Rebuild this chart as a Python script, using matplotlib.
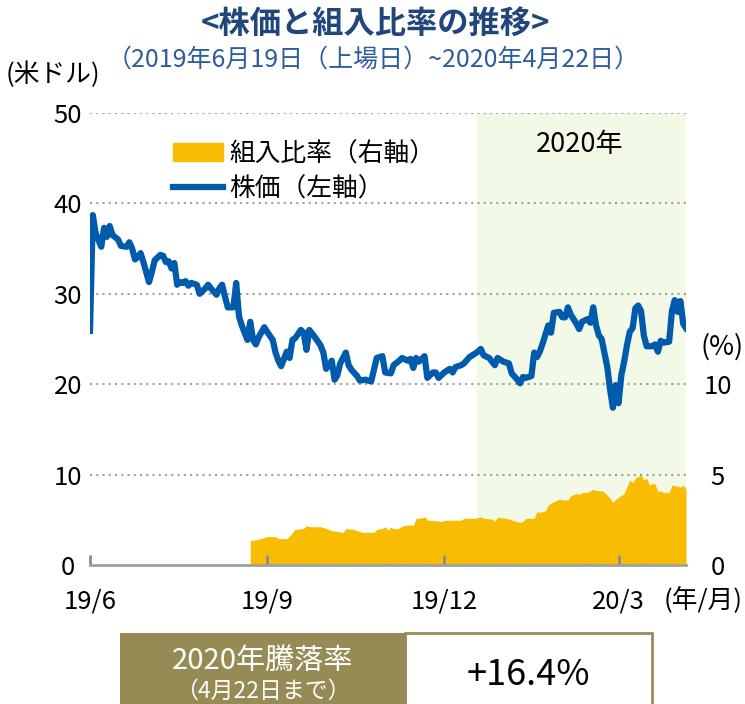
import matplotlib.pyplot as plt
from matplotlib.patches import Patch, Rectangle
from matplotlib.lines import Line2D

plt.rcParams['font.family'] = ['Noto Sans CJK JP', 'DejaVu Sans']

# 株価（左軸, 米ドル）: 上場日からの営業日番号と終値
price_day = [0, 1, 2, 4, 5, 6, 7, 8, 10, 11, 13, 14, 15, 16, 17, 18, 19, 21, 22, 23,
             25, 26, 27, 28, 29, 30, 31, 32, 33, 34, 35, 36, 38, 39, 41, 42, 43, 45, 46, 47,
             48, 49, 51, 52, 53, 54, 56, 57, 58, 59, 60, 62, 63, 65, 66, 67, 68, 70, 71, 72,
             73, 75, 76, 77, 78, 80, 82, 83, 84, 85, 86, 87, 88, 89, 91, 92, 93, 95, 96, 98,
             100, 101, 102, 104, 105, 107, 108, 110, 111, 113, 114, 115, 116, 117, 119, 120, 122, 123, 124, 126,
             128, 129, 130, 132, 133, 135, 138, 139, 140, 142, 144, 145, 147, 149, 150, 152, 153, 154, 155, 157,
             158, 159, 160, 161, 163, 164, 165, 167, 168, 169, 170, 171, 173, 174, 175, 177, 178, 179, 180, 181,
             182, 184, 185, 186, 187, 188, 189, 190, 191, 192, 193, 194, 195, 196, 197, 198, 200, 201, 202, 203,
             204, 206, 207, 208, 209, 210, 211, 212]
price = [25.9, 38.7, 36.7, 35.2, 37.3, 36.3, 37.5, 36.5, 36.0, 35.3, 35.2, 35.7, 35.0, 33.8, 34.1, 34.5, 33.5, 31.3, 32.4, 33.7,
         34.3, 34.2, 33.5, 33.6, 32.8, 33.4, 31.0, 31.3, 31.2, 31.4, 30.9, 31.2, 31.0, 30.0, 30.6, 31.0, 30.6, 29.9, 30.6, 31.0,
         29.7, 28.5, 28.5, 31.2, 27.5, 26.5, 24.9, 26.9, 24.9, 24.4, 25.2, 26.3, 25.8, 24.9, 23.5, 22.6, 22.0, 23.6, 22.9, 24.9,
         25.1, 26.0, 25.7, 23.8, 26.0, 25.2, 24.3, 23.5, 21.7, 22.1, 22.6, 20.5, 21.0, 22.3, 23.5, 22.1, 21.6, 20.9, 20.4, 20.5,
         20.3, 21.6, 22.9, 23.1, 21.3, 21.2, 22.1, 22.6, 22.9, 22.6, 22.8, 21.8, 22.9, 22.5, 23.1, 20.7, 21.3, 21.3, 20.7, 21.3,
         21.7, 21.3, 21.9, 22.1, 22.3, 23.0, 23.6, 23.9, 23.2, 22.9, 22.1, 22.9, 22.5, 22.3, 21.2, 20.5, 20.1, 20.8, 20.7, 20.9,
         23.5, 23.0, 23.6, 24.5, 26.5, 25.7, 27.9, 28.0, 27.4, 27.4, 28.5, 27.7, 26.7, 26.1, 26.9, 27.2, 26.8, 28.5, 26.5, 25.4,
         25.0, 21.9, 19.4, 17.4, 19.9, 17.9, 21.0, 22.5, 24.3, 25.8, 26.2, 28.4, 28.7, 28.1, 25.4, 24.2, 24.2, 24.4, 23.6, 24.8,
         24.6, 24.7, 28.1, 29.3, 28.0, 29.2, 26.7, 26.2]

# 組入比率（右軸, %）
ratio_day = [57, 60, 62, 63, 66, 67, 70, 71, 73, 76, 77, 78, 82, 84, 86, 88, 90, 91, 94, 95,
             97, 101, 102, 104, 105, 106, 107, 108, 110, 111, 113, 115, 116, 118, 119, 120, 123, 125, 126, 132,
             133, 137, 139, 140, 143, 144, 145, 148, 149, 151, 153, 154, 155, 158, 159, 160, 162, 163, 165, 167,
             168, 170, 171, 173, 174, 175, 177, 179, 180, 182, 183, 185, 186, 187, 188, 190, 191, 192, 193, 194,
             196, 197, 198, 199, 200, 201, 202, 203, 204, 206, 207, 209, 210, 211, 212]
ratio = [1.35, 1.42, 1.53, 1.57, 1.57, 1.46, 1.46, 1.60, 1.97, 2.02, 2.19, 2.12, 2.12, 2.02, 1.90, 1.86, 1.79, 2.01, 1.97, 1.90,
         1.81, 1.81, 1.97, 2.02, 2.12, 1.93, 2.09, 2.00, 2.02, 2.16, 2.21, 2.21, 2.58, 2.60, 2.67, 2.49, 2.45, 2.40, 2.47, 2.48,
         2.58, 2.58, 2.67, 2.58, 2.54, 2.43, 2.64, 2.58, 2.54, 2.43, 2.36, 2.40, 2.58, 2.58, 2.95, 2.91, 3.00, 3.32, 3.50, 3.65,
         3.60, 3.60, 3.82, 3.96, 3.91, 4.00, 4.02, 4.19, 4.11, 4.11, 4.02, 3.69, 3.45, 3.63, 3.74, 3.96, 4.33, 4.70, 4.55, 4.80,
         4.98, 4.70, 4.80, 4.42, 4.52, 4.48, 4.06, 4.11, 4.00, 4.00, 4.42, 4.37, 4.30, 4.42, 4.19]

n_days = 212
tick_days = [0, 63, 126, 188]
tick_labels = ['19/6', '19/9', '19/12', '20/3']
start_2020 = 137.5

blue = '#005bac'
gold = '#f8bd00'
olive = '#968b55'

W, H = 745, 704
fig = plt.figure(figsize=(W / 100, H / 100), dpi=100)
ax = fig.add_axes([90 / W, 1 - 565 / H, 596 / W, 452 / H])
ax2 = ax.twinx()
ax.set_zorder(ax2.get_zorder() + 1)
ax.patch.set_visible(False)

# 2020年の背景
ax2.axvspan(start_2020, n_days, color='#f2f9e6', lw=0, zorder=0)
ax2.fill_between(ratio_day, ratio, color=gold, lw=0, zorder=1)
ax.plot(price_day, price, color=blue, lw=4.5, solid_joinstyle='round', zorder=3)

ax.set_xlim(0, n_days)
ax.set_ylim(0, 50)
ax2.set_ylim(0, 25)

ax.set_yticks([0, 10, 20, 30, 40, 50])
ax.yaxis.grid(True, linestyle=(0, (1, 2)), color='#a0a0a0', lw=1.5)
ax.set_axisbelow(True)
ax.tick_params(axis='y', length=0, labelsize=18.5, pad=16)
for t in ax.get_yticklabels():
    t.set_ha('center')

ax2.set_yticks([0, 5, 10])
ax2.tick_params(axis='y', length=0, labelsize=18.5, pad=23)
for t in ax2.get_yticklabels():
    t.set_ha('center')

ax.set_xticks(tick_days)
ax.set_xticklabels(tick_labels)
ax.tick_params(axis='x', direction='in', length=7, width=2, color='#8c8c8c',
               labelsize=18.5, pad=17)

for s in ['top', 'left', 'right']:
    ax.spines[s].set_visible(False)
    ax2.spines[s].set_visible(False)
ax2.spines['bottom'].set_visible(False)
ax.spines['bottom'].set_color('#a0a0a0')
ax.spines['bottom'].set_linewidth(2)

handles = [Patch(color=gold), Line2D([], [], color=blue, lw=4.5)]
ax.legend(handles, ['組入比率（右軸）', '株価（左軸）'], loc='upper left',
          bbox_to_anchor=(150 / W, 1 - 118 / H), bbox_transform=fig.transFigure,
          frameon=False, fontsize=18.5, handlelength=1.95, handletextpad=0.25,
          labelspacing=0.35)

fig.text(580 / W, 1 - 145 / H, '2020年', fontsize=19.5, ha='center', va='center')

# タイトル
fig.text(375 / W, 1 - 24 / H, '<株価と組入比率の推移>', fontsize=22.5, fontweight='bold',
         color='#21467c', ha='center', va='center')
fig.text(373 / W, 1 - 60 / H, '（2019年6月19日（上場日）~2020年4月22日）', fontsize=18,
         color='#2e5d9e', ha='center', va='center')
fig.text(53 / W, 1 - 75 / H, '(米ドル)', fontsize=18.5, ha='center', va='center')
fig.text(722 / W, 1 - 347 / H, '(%)', fontsize=19.5, ha='center', va='center')
fig.text(703 / W, 1 - 600 / H, '(年/月)', fontsize=18.5, ha='center', va='center')

# 騰落率の表
fig.add_artist(Rectangle((120 / W, 0), 285 / W, 71 / H, transform=fig.transFigure,
                         facecolor=olive, edgecolor=olive, lw=0))
fig.add_artist(Rectangle((405 / W, -0.01), 247 / W, 71 / H + 0.01, transform=fig.transFigure,
                         facecolor='white', edgecolor=olive, lw=2))
fig.text(263 / W, 1 - 661 / H, '2020年騰落率', fontsize=21, color='white', ha='center', va='center')
fig.text(263 / W, 1 - 691 / H, '（4月22日まで）', fontsize=16.5, color='white', ha='center', va='center')
fig.text(528 / W, 1 - 675 / H, '+16.4%', fontsize=26, color='black', ha='center', va='center')

fig.savefig('out.png', dpi=100)
